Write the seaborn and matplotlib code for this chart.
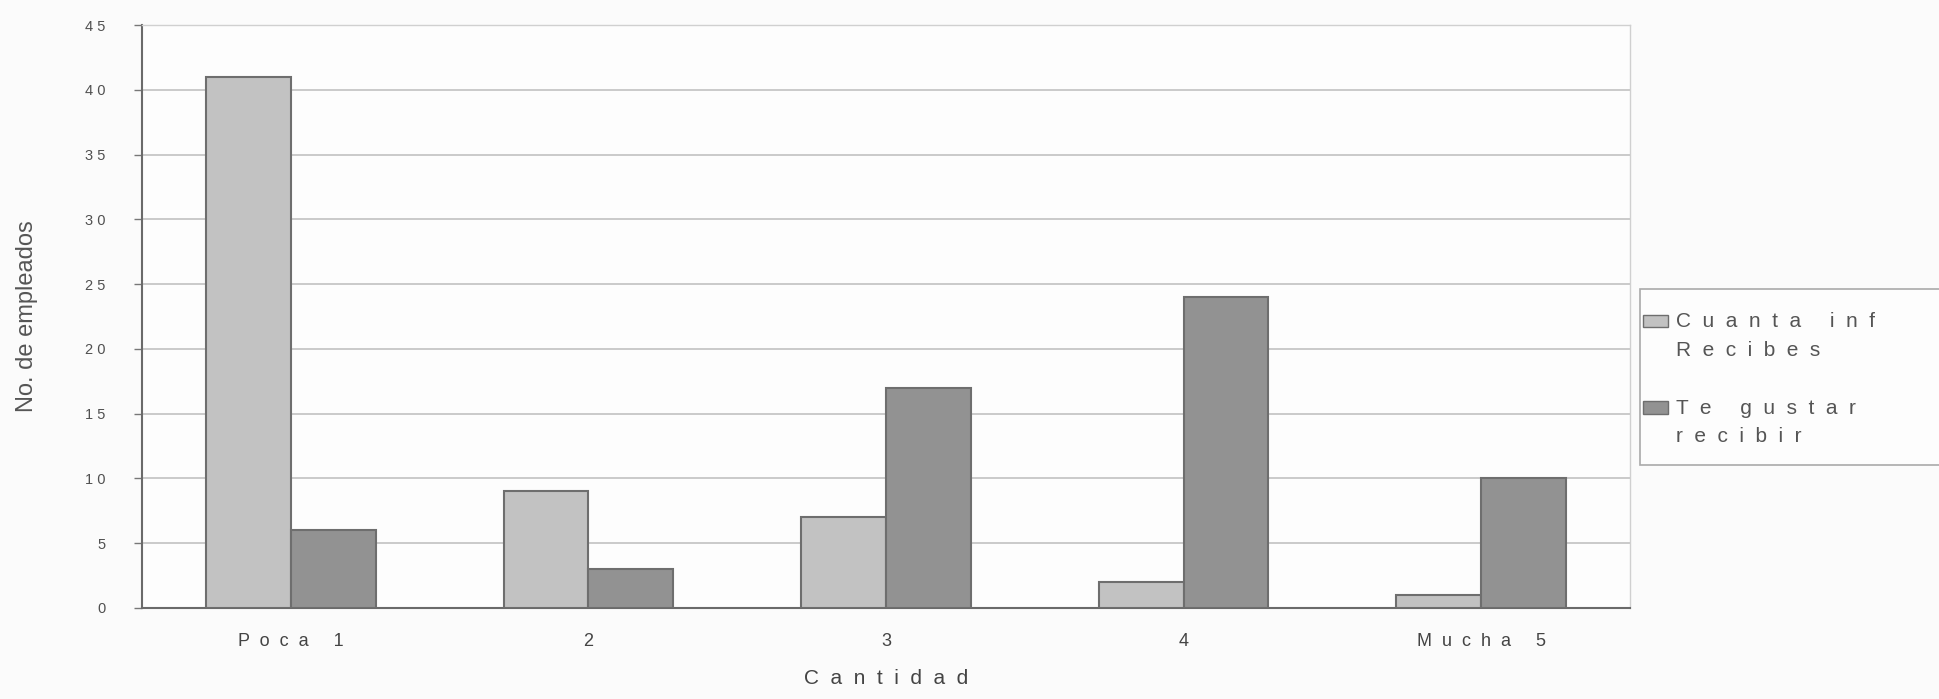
import numpy as np
import pandas as pd
import matplotlib
matplotlib.use("Agg")
import matplotlib.pyplot as plt
import seaborn as sns
from matplotlib.patches import Patch, Rectangle
from matplotlib.legend_handler import HandlerPatch

categories = ["Poca 1", "2", "3", "4", "Mucha 5"]
series_names = ["Cuanta inf\nRecibes", "Te gustar\nrecibir"]
recibes = [41, 9, 7, 2, 1]
gustar = [6, 3, 17, 24, 10]
y_ticks = [0, 5, 10, 15, 20, 25, 30, 35, 40, 45]

def spaced(s, sep=" "):
    return "\n".join(sep.join(list(line)) for line in s.split("\n"))

df = pd.DataFrame({
    "cat": categories * 2,
    "serie": [series_names[0]] * 5 + [series_names[1]] * 5,
    "val": recibes + gustar,
})

sns.set_theme(style="white")
plt.rcParams['font.family'] = ['Liberation Sans', 'DejaVu Sans']

fig = plt.figure(figsize=(19.39, 6.99), dpi=100)
fig.patch.set_facecolor("#fbfbfb")
ax = fig.add_axes([0.0732, 0.1302, 0.7674, 0.834])
ax.set_facecolor("#fdfdfd")

palette = {series_names[0]: "#c2c2c2", series_names[1]: "#929292"}
sns.barplot(data=df, x="cat", y="val", hue="serie", palette=palette,
            width=0.57, gap=0, edgecolor="#6e6e6e", linewidth=1.5,
            saturation=1, ax=ax, legend=False, zorder=3)

ax.set_xlim(-0.5, 4.5)
ax.set_ylim(0, 45)
ax.set_yticks(y_ticks)
ax.set_yticklabels([spaced(str(t)) for t in y_ticks], fontsize=10.5, color="#505050")
ax.yaxis.grid(True, color="#bdbdbd", linewidth=1.1, zorder=0)
ax.set_axisbelow(True)
ax.set_xticks(range(5))
ax.set_xticklabels([spaced(c, "  ") for c in categories], fontsize=13, color="#444444")
ax.tick_params(axis="x", which="major", length=0, pad=18)
ax.set_xticks(np.arange(-0.5, 5.0, 1.0), minor=True)
ax.tick_params(axis="x", which="minor", length=5, color="#777777", width=1)
ax.tick_params(axis="y", which="major", length=6, color="#777777", width=1, left=True, pad=20)

ax.set_xlabel(spaced("Cantidad", "  "), fontsize=15, color="#444444", labelpad=14)
ax.set_ylabel("No. de empleados", fontsize=17, color="#555555", labelpad=34)

for side in ["left", "bottom"]:
    ax.spines[side].set_color("#6a6a6a")
    ax.spines[side].set_linewidth(1.5)
for side in ["top", "right"]:
    ax.spines[side].set_color("#d0d0d0")
    ax.spines[side].set_linewidth(1.0)

# legend frame drawn separately
frame = Rectangle((0.8458, 0.3348), 0.2, 0.2518, transform=fig.transFigure,
                  facecolor="#fdfdfd", edgecolor="#aaaaaa", linewidth=1.2, zorder=1)
fig.patches.append(frame)

def top_patch(legend, orig_handle, xdescent, ydescent, width, height, fontsize):
    return Rectangle((-xdescent, -ydescent + 11), width, height)

handles = [Patch(facecolor=palette[s], edgecolor="#6e6e6e") for s in series_names]
leg = fig.legend(handles, [spaced(s, "  ") for s in series_names],
                 loc="upper left", bbox_to_anchor=(0.8475, 0.553),
                 frameon=False, fontsize=15, labelspacing=1.85,
                 handlelength=1.2, handleheight=0.55, handletextpad=0.35,
                 borderpad=0.0, borderaxespad=0, labelcolor="#555555",
                 handler_map={Patch: HandlerPatch(patch_func=top_patch)})
for t in leg.get_texts():
    t.set_linespacing(1.65)

fig.savefig("out.png", dpi=100, facecolor=fig.get_facecolor())
